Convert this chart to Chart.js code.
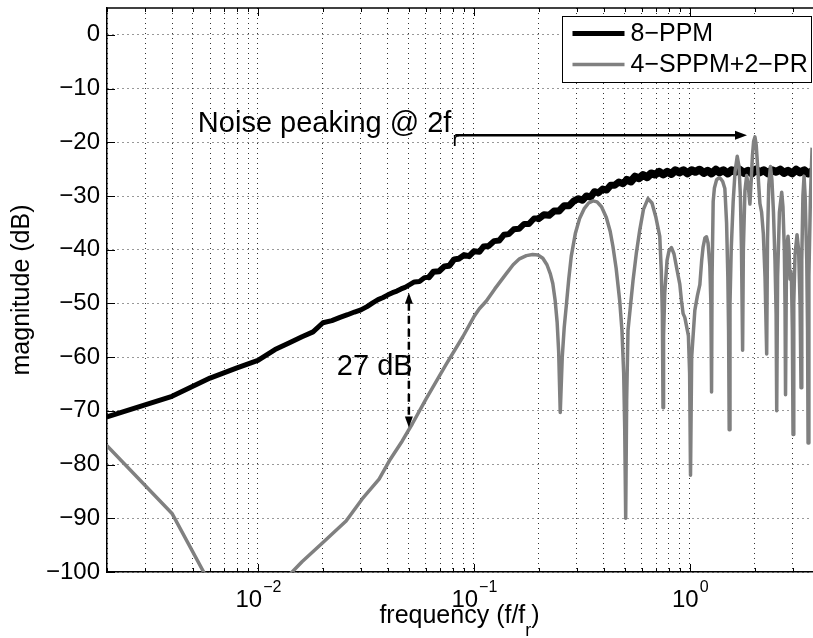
<!DOCTYPE html>
<html>
<head>
<meta charset="utf-8">
<title>PPM noise spectrum</title>
<script src="https://cdn.jsdelivr.net/npm/chart.js@4.4.1/dist/chart.umd.min.js"></script>
<style>
  html, body { margin: 0; padding: 0; background: #fff; }
  canvas { display: block; }
</style>
</head>
<body>
<canvas id="spectrum" width="813" height="638"></canvas>
<script>
// 8-PPM (black, noisy above ~0.05)
const freqPPM = [0.002, 0.004, 0.006, 0.008, 0.010, 0.012, 0.014, 0.016, 0.018, 0.020,
  0.022, 0.024, 0.026, 0.028, 0.030, 0.032, 0.034, 0.036, 0.038, 0.040, 0.042, 0.044, 0.046, 0.048,
  0.050, 0.053, 0.056, 0.059, 0.062, 0.065, 0.069, 0.073, 0.077, 0.081, 0.085, 0.090, 0.095,
  0.100, 0.106, 0.111, 0.117, 0.124, 0.131, 0.138, 0.145, 0.153, 0.162, 0.171, 0.180, 0.190,
  0.200, 0.211, 0.223, 0.235, 0.248, 0.262, 0.276, 0.291,
  0.305, 0.318, 0.332, 0.347, 0.362, 0.378, 0.395, 0.412, 0.430, 0.449, 0.469, 0.490, 0.511,
  0.534, 0.557, 0.582, 0.607, 0.634, 0.662, 0.691, 0.721, 0.753, 0.786, 0.821, 0.857, 0.895,
  0.934, 0.975, 1.02, 1.06, 1.11, 1.16, 1.21, 1.26, 1.32, 1.37, 1.43, 1.50, 1.56, 1.63, 1.70,
  1.78, 1.86, 1.94, 2.02, 2.11, 2.20, 2.30, 2.40, 2.51, 2.62, 2.73, 2.85, 2.98, 3.11, 3.24,
  3.39, 3.53, 3.68]
const magPPM = [-71.1, -67.3, -63.9, -62.0, -60.6, -58.6, -57.3, -56.2, -55.3, -53.6,
  -53.2, -52.6, -52.1, -51.6, -51.2, -50.6, -49.9, -49.3, -48.9, -48.4, -48.0, -47.7, -47.3, -47.0,
  -46.6, -46.0, -45.9, -45.2, -45.1, -44.1, -44.0, -43.1, -43.0, -41.8, -41.7, -41.0, -41.2,
  -40.3, -40.4, -39.4, -39.3, -38.4, -38.3, -37.2, -37.1, -36.2, -36.1, -35.2, -35.2, -34.2,
  -34.2, -33.5, -33.6, -32.8, -32.8, -31.8, -31.8, -30.9,
  -30.5, -30.8, -30.0, -30.2, -29.2, -29.4, -28.7, -28.9, -28.0, -28.0, -27.4, -27.7, -27.0,
  -27.3, -26.4, -26.7, -26.1, -26.5, -25.8, -26.0, -25.5, -26.0, -25.5, -25.9, -25.2, -25.6,
  -25.2, -25.8, -25.2, -25.5, -25.1, -25.7, -25.3, -25.8, -25.1, -25.6, -25.2, -25.8, -25.2, -25.5, -25.1,
  -25.7, -25.3, -25.8, -25.1, -25.6, -25.2, -25.8, -25.2, -25.5, -25.1, -25.7, -25.3, -25.8, -25.1, -25.6,
  -25.2, -25.8, -25.4]

// 4-SPPM+2-PR (gray, deep notches)
const freqSPPM = [0.002, 0.004, 0.006, 0.008, 0.010, 0.012, 0.014, 0.016, 0.020, 0.0256,
  0.0304, 0.0364, 0.0406, 0.0466, 0.0519, 0.060, 0.0745, 0.0889, 0.100, 0.106,
  0.114, 0.125, 0.141, 0.152, 0.1626, 0.175, 0.187, 0.198, 0.2086, 0.218, 0.226, 0.232, 0.238, 0.243, 0.247, 0.2512,
  0.2566, 0.262, 0.2678, 0.275, 0.2825, 0.295, 0.3087, 0.325, 0.340, 0.356, 0.372, 0.390, 0.4106, 0.428, 0.4406, 0.456, 0.4735, 0.485, 0.494, 0.4994, 0.5047,
  0.510, 0.5173, 0.5456, 0.566, 0.5861, 0.610, 0.6403, 0.668, 0.695, 0.7258, 0.738, 0.746, 0.7515,
  0.756, 0.7655, 0.7846, 0.800, 0.8225, 0.845, 0.870, 0.8987, 0.915, 0.931, 0.948, 0.985, 0.998, 1.0075,
  1.02, 1.055, 1.085, 1.113, 1.135, 1.152, 1.175, 1.195, 1.215, 1.238, 1.252, 1.261,
  1.268, 1.283, 1.30, 1.33, 1.364, 1.39, 1.42, 1.453, 1.48, 1.50, 1.512, 1.522,
  1.535, 1.555, 1.588, 1.62, 1.658, 1.69, 1.715, 1.735, 1.756,
  1.77, 1.80, 1.833, 1.865, 1.898, 1.925, 1.95, 1.975, 2.003, 2.03, 2.057, 2.085, 2.112, 2.15, 2.19, 2.23, 2.270,
  2.29, 2.32, 2.363, 2.40, 2.44, 2.48, 2.51, 2.526,
  2.55, 2.60, 2.664, 2.70, 2.74, 2.76, 2.775,
  2.80, 2.83, 2.85, 2.88, 2.911, 2.935, 2.958, 2.985, 3.006,
  3.03, 3.07, 3.137, 3.19, 3.24, 3.274,
  3.30, 3.34, 3.381, 3.42, 3.48, 3.51, 3.529, 3.56, 3.62, 3.683]
const magSPPM = [-76.5, -89.1, -102.2, -112, -116, -108, -100.5, -98.1, -94.5, -90.5,
  -86.4, -82.7, -79.3, -75.6, -72.4, -67.8, -61.3, -56.2, -52.5, -51.0,
  -49.6, -47.3, -44.5, -42.8, -41.7, -41.1, -40.9, -41.0, -41.6, -42.8, -44.5, -46.3, -49.5, -53.5, -59, -70.3,
  -60, -54.5, -50.5, -45.5, -41.2, -37.0, -34.2, -32.3, -31.3, -30.9, -31.1, -32.0, -34.0, -36.6, -39.4, -43.5, -49.5, -55, -63, -73, -90,
  -68, -55, -45.8, -40.5, -36.4, -32.5, -30.5, -31.3, -33.8, -37.5, -44, -52, -69.4,
  -56, -48, -42, -40.3, -39.6, -40.8, -43.5, -46.4, -49.5, -51.9, -52.6, -56, -63, -82,
  -60, -51.3, -48.5, -46.5, -42, -39.5, -37.8, -37.6, -38.8, -43, -50, -66.5,
  -45, -31, -28.5, -27, -26.6, -26.8, -27.3, -28.6, -35, -45, -55, -73.5,
  -50, -40, -31, -25.5, -22.6, -24.5, -30, -40, -58.7,
  -40, -29, -26.2, -28, -31.5, -27, -22.5, -19.8, -19.0, -20.5, -24, -28, -31.4, -33, -37, -45, -59.4,
  -38, -28, -24.5, -27, -33, -42, -52, -70,
  -45, -33, -29.3, -32, -40, -50, -67,
  -45, -38.5, -37.5, -40, -45.5, -44, -46, -55, -74.4,
  -50, -41, -37.2, -40, -50, -65.7,
  -42, -30, -26.3, -30, -42, -55, -76, -45, -30, -21]

const seriesNames = ['8\u2212PPM', '4\u2212SPPM+2\u2212PR']

// axes
const xGrid = [0.002, 0.003, 0.004, 0.005, 0.006, 0.007, 0.008, 0.009,
  0.01, 0.02, 0.03, 0.04, 0.05, 0.06, 0.07, 0.08, 0.09,
  0.1, 0.2, 0.3, 0.4, 0.5, 0.6, 0.7, 0.8, 0.9, 1, 2, 3]
const xDecades = [0.01, 0.1, 1]
const xExponents = ['\u22122', '\u22121', '0']
const yTicks = [-100, -90, -80, -70, -60, -50, -40, -30, -20, -10, 0]

// annotations (data units)
const peakLabel = 'Noise peaking @ 2f'
const peakLabelAt = [0.00527, -18.0]
const peakArrowFrom = [0.082, -18.7]
const peakArrowTo = [1.84, -18.7]
const gapLabel = '27 dB'
const gapLabelAt = [0.0232, -63.4]
const gapArrowX = 0.05
const gapArrowTop = -48.0
const gapArrowBottom = -73.1

const FONT = "'Liberation Sans', Arial, Helvetica, sans-serif"
Chart.defaults.font.family = FONT
Chart.defaults.color = '#000'

function arrowHead(ctx, tx, ty, dx, dy, len, half) {
  const bx = tx - dx * len, by = ty - dy * len
  ctx.beginPath()
  ctx.moveTo(tx, ty)
  ctx.lineTo(bx - dy * half, by + dx * half)
  ctx.lineTo(bx + dy * half, by - dx * half)
  ctx.closePath()
  ctx.fill()
}

// box top, inward ticks, decade labels, x title
const matlabAxes = {
  id: 'matlabAxes',
  afterDatasetsDraw(chart) {
    const { ctx, chartArea: a, scales: { x, y } } = chart
    ctx.save()
    ctx.strokeStyle = '#000'
    ctx.lineWidth = 1.5
    ctx.beginPath()
    ctx.moveTo(a.left, a.top)
    ctx.lineTo(a.right + 1, a.top)
    ctx.stroke()

    ctx.lineWidth = 1
    ctx.beginPath()
    xGrid.forEach(v => {
      const px = Math.round(x.getPixelForValue(v)) + 0.5
      const len = xDecades.includes(v) ? 8 : 4
      ctx.moveTo(px, a.bottom); ctx.lineTo(px, a.bottom - len)
      ctx.moveTo(px, a.top); ctx.lineTo(px, a.top + len)
    })
    yTicks.forEach(v => {
      const py = Math.round(y.getPixelForValue(v)) + 0.5
      ctx.moveTo(a.left, py); ctx.lineTo(a.left + 8, py)
    })
    ctx.stroke()

    // 10^n labels
    ctx.fillStyle = '#000'
    ctx.textBaseline = 'alphabetic'
    xDecades.forEach((v, i) => {
      const px = x.getPixelForValue(v)
      ctx.font = `24px ${FONT}`
      const wBase = ctx.measureText('10').width
      ctx.font = `16px ${FONT}`
      const wExp = ctx.measureText(xExponents[i]).width
      const start = px - (wBase + wExp) / 2
      ctx.font = `24px ${FONT}`
      ctx.fillText('10', start, a.bottom + 35)
      ctx.font = `16px ${FONT}`
      ctx.fillText(xExponents[i], start + wBase + 1, a.bottom + 20)
    })

    // x title with subscript
    const main = 'frequency (f/f', sub = 'r', close = ')'
    ctx.font = `25px ${FONT}`
    const w1 = ctx.measureText(main).width
    const w3 = ctx.measureText(close).width
    ctx.font = `18px ${FONT}`
    const w2 = ctx.measureText(sub).width
    const cx = (a.left + a.right) / 2
    const sx = cx - (w1 + w2 + w3) / 2
    ctx.font = `25px ${FONT}`
    ctx.fillText(main, sx, a.bottom + 51)
    ctx.font = `18px ${FONT}`
    ctx.fillText(sub, sx + w1, a.bottom + 64)
    ctx.font = `25px ${FONT}`
    ctx.fillText(close, sx + w1 + w2, a.bottom + 51)
    ctx.restore()
  }
}

const annotations = {
  id: 'annotations',
  afterDatasetsDraw(chart) {
    const { ctx, scales: { x, y } } = chart
    ctx.save()
    ctx.fillStyle = '#000'
    ctx.strokeStyle = '#000'
    ctx.textBaseline = 'alphabetic'

    // noise peaking label + arrow
    const tx = x.getPixelForValue(peakLabelAt[0]), ty = y.getPixelForValue(peakLabelAt[1])
    ctx.font = `29px ${FONT}`
    ctx.fillText(peakLabel, tx, ty)
    const w = ctx.measureText(peakLabel).width
    ctx.font = `20px ${FONT}`
    ctx.fillText('r', tx + w + 1, ty + 14)
    const ax0 = x.getPixelForValue(peakArrowFrom[0]), ay = y.getPixelForValue(peakArrowFrom[1])
    const ax1 = x.getPixelForValue(peakArrowTo[0])
    ctx.lineWidth = 2.5
    ctx.beginPath()
    ctx.moveTo(ax0, ay)
    ctx.lineTo(ax1 - 10, ay)
    ctx.stroke()
    arrowHead(ctx, ax1, ay, 1, 0, 12, 4.5)

    // 27 dB gap
    const gx = x.getPixelForValue(gapArrowX)
    const gTop = y.getPixelForValue(gapArrowTop), gBot = y.getPixelForValue(gapArrowBottom)
    ctx.setLineDash([8, 5])
    ctx.beginPath()
    ctx.moveTo(gx, gTop + 10)
    ctx.lineTo(gx, gBot - 10)
    ctx.stroke()
    ctx.setLineDash([])
    arrowHead(ctx, gx, gTop, 0, -1, 11, 4)
    arrowHead(ctx, gx, gBot, 0, 1, 11, 4)
    ctx.font = `29px ${FONT}`
    ctx.fillText(gapLabel, x.getPixelForValue(gapLabelAt[0]), y.getPixelForValue(gapLabelAt[1]))
    ctx.restore()
  }
}

const boxLegend = {
  id: 'boxLegend',
  afterDraw(chart) {
    const { ctx, chartArea: a } = chart
    const right = a.right - 0.5, left = right - 249, top = a.top + 8.5, bottom = top + 66
    ctx.save()
    ctx.fillStyle = '#fff'
    ctx.fillRect(left, top, right - left, bottom - top)
    ctx.strokeStyle = '#000'
    ctx.lineWidth = 1
    ctx.strokeRect(left, top, right - left, bottom - top)
    chart.data.datasets.forEach((ds, i) => {
      const ly = top + 17 + i * 31
      ctx.strokeStyle = ds.borderColor
      ctx.lineWidth = ds.borderWidth
      ctx.beginPath()
      ctx.moveTo(left + 10, ly)
      ctx.lineTo(left + 62, ly)
      ctx.stroke()
      ctx.fillStyle = '#000'
      ctx.font = `25px ${FONT}`
      ctx.textBaseline = 'middle'
      ctx.fillText(ds.label, left + 68, ly + 1)
    })
    ctx.restore()
  }
}

const toPoints = (xs, ys) => xs.map((f, i) => ({ x: f, y: ys[i] }))

// the noisy part of the 8-PPM trace reads as a thicker band
const noiseWidth = c => {
  const f = c.p0.parsed.x
  if (f < 0.06) return 5
  if (f < 0.2) return 6
  if (f < 0.5) return 7
  return 8
}

new Chart(document.getElementById('spectrum'), {
  type: 'line',
  data: {
    datasets: [
      {
        label: seriesNames[0],
        data: toPoints(freqPPM, magPPM),
        borderColor: '#000',
        borderWidth: 5,
        borderJoinStyle: 'round',
        borderCapStyle: 'round',
        segment: { borderWidth: noiseWidth },
        pointRadius: 0,
        clip: 0,
        order: 2
      },
      {
        label: seriesNames[1],
        data: toPoints(freqSPPM, magSPPM),
        borderColor: '#808080',
        borderWidth: 3.5,
        borderJoinStyle: 'round',
        pointRadius: 0,
        clip: 0,
        order: 1
      }
    ]
  },
  options: {
    responsive: false,
    animation: false,
    devicePixelRatio: 1,
    events: [],
    layout: { padding: { left: 0, top: 8, right: 1, bottom: 0 } },
    plugins: { legend: { display: false }, tooltip: { enabled: false } },
    scales: {
      x: {
        type: 'logarithmic',
        min: 0.002,
        max: 3.68,
        afterBuildTicks: s => { s.ticks = xGrid.map(v => ({ value: v })) },
        afterFit: s => { s.height = 66; s.paddingLeft = 0; s.paddingRight = 0 },
        ticks: { display: false },
        grid: { color: '#333', lineWidth: 1, drawTicks: false },
        border: { display: true, color: '#000', width: 1.5, dash: [1, 4] }
      },
      y: {
        type: 'linear',
        min: -100,
        max: 5,
        afterBuildTicks: s => { s.ticks = yTicks.map(v => ({ value: v })) },
        afterFit: s => { s.width = 107; s.paddingTop = 0; s.paddingBottom = 0 },
        ticks: {
          font: { size: 24 },
          color: '#000',
          padding: 7,
          callback: v => (v < 0 ? '\u2212' + Math.abs(v) : String(v))
        },
        grid: { color: '#333', lineWidth: 1, drawTicks: false },
        border: { display: true, color: '#000', width: 1.5, dash: [1, 4] },
        title: {
          display: true,
          text: 'magnitude (dB)',
          font: { size: 25 },
          color: '#000',
          padding: { top: 7, bottom: 0 }
        }
      }
    }
  },
  plugins: [matlabAxes, annotations, boxLegend]
})
</script>
</body>
</html>
